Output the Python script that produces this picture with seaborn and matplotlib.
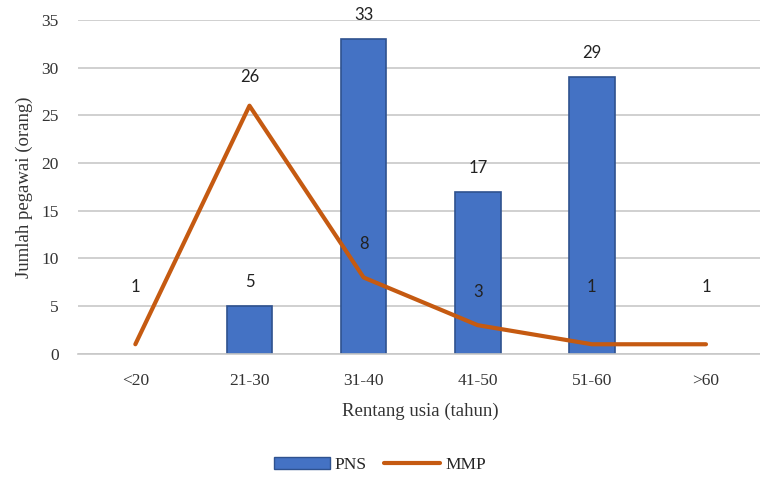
import numpy as np
import pandas as pd
import matplotlib
matplotlib.use("Agg")
import matplotlib.pyplot as plt
import seaborn as sns
from matplotlib.patches import Patch
from matplotlib.lines import Line2D

# Data
categories = ['<20', '21-30', '31-40', '41-50', '51-60', '>60']
pns = [np.nan, 5, 33, 17, 29, np.nan]
mmp = [1, 26, 8, 3, 1, 1]

# label offsets (pixels above the point) as in the original
mmp_label_offsets = [57, 29, 33, 33, 57, 57]

bar_color = '#4472C4'
bar_edge = '#2F528F'
line_color = '#C55A11'
serif = 'Liberation Serif'
sans = 'Lato'

sns.set_style('white')
plt.rcParams['font.family'] = [serif, 'DejaVu Serif']

fig = plt.figure(figsize=(7.6, 4.84), dpi=100)
ax = fig.add_axes([0.103, 0.269, 0.901, 0.690])

df = pd.DataFrame({'usia': categories, 'PNS': pns})
sns.barplot(data=df, x='usia', y='PNS', order=categories, color=bar_color,
            edgecolor=bar_edge, linewidth=1.2, width=0.4, saturation=1,
            errorbar=None, ax=ax, zorder=2)
sns.lineplot(x=np.arange(len(categories)), y=mmp, color=line_color,
             linewidth=3, ax=ax, zorder=3)

# data labels
for i, v in enumerate(pns):
    if not np.isnan(v):
        ax.annotate(f'{int(v)}', (i, v), xytext=(0, 17), textcoords='offset points',
                    ha='center', va='center', fontsize=12, family=sans, color='#222222')
for i, v in enumerate(mmp):
    ax.annotate(f'{v}', (i, v), xytext=(0, mmp_label_offsets[i] * 0.72),
                textcoords='offset points', ha='center', va='center',
                fontsize=12, family=sans, color='#222222', zorder=4)

ax.set_ylim(0, 35)
ax.set_xlim(-0.5, 5.5)
ax.set_yticks(range(0, 36, 5))
ax.yaxis.grid(True, color='#C8C8C8', linewidth=1.2, zorder=0)
ax.set_axisbelow(True)
for s in ['top', 'right', 'left']:
    ax.spines[s].set_visible(False)
ax.spines['bottom'].set_color('#C8C8C8')
ax.spines['bottom'].set_linewidth(1.2)
ax.tick_params(axis='both', length=0, labelsize=12.5, colors='#333333')
ax.tick_params(axis='x', pad=14)
ax.tick_params(axis='y', pad=14)
ax.set_xlabel('Rentang usia (tahun)', fontsize=13.5, color='#333333', labelpad=10)
ax.set_ylabel('Jumlah pegawai (orang)', fontsize=13.5, color='#333333', labelpad=6)

handles = [Patch(facecolor=bar_color, edgecolor=bar_edge, label='PNS'),
           Line2D([0], [0], color=line_color, linewidth=3, label='MMP')]
fig.legend(handles=handles, loc='center', bbox_to_anchor=(0.5, 0.04), ncol=2,
           frameon=False, fontsize=12.5, handlelength=3.2, columnspacing=1.0,
           handletextpad=0.3)

fig.savefig('out.png', dpi=100)
